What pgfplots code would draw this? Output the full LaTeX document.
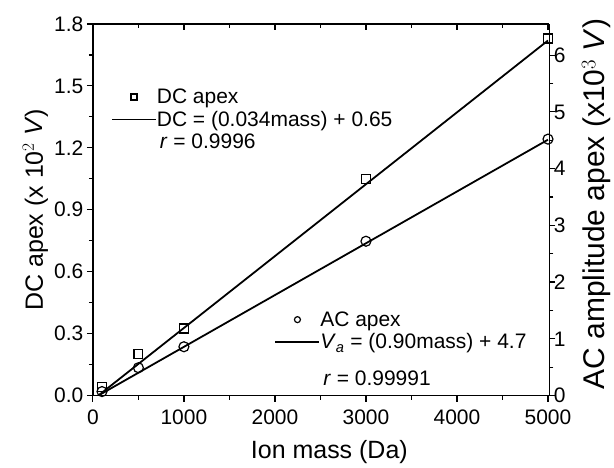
\documentclass[border=0pt]{standalone}
\usepackage{pgfplots}
\pgfplotsset{compat=1.18}
\usepackage{fontspec}
\setmainfont{Liberation Sans}
\newcommand{\tickfont}{\fontsize{21}{23}\selectfont}
\newcommand{\labfont}{\fontsize{25}{27}\selectfont}
\newcommand{\rlabfont}{\fontsize{30}{32}\selectfont}
\newcommand{\legfont}{\fontsize{21}{23}\selectfont}
\begin{document}
\begin{tikzpicture}
\pgfplotsset{
  base/.style={
    width=457pt, height=372pt, scale only axis,
    xmin=0, xmax=5015,
    /pgf/number format/assume math mode=true,
    tick label style={font=\tickfont},
    label style={font=\labfont},
    axis line style={line width=1.6pt},
    major tick length=6pt, minor tick length=4pt,
    every tick/.style={line width=1.2pt, black},
    legend style={draw=none, fill=none, font=\legfont, inner sep=0pt, outer sep=0pt,
      row sep=6pt, nodes={inner sep=0pt, outer sep=0pt},
      /tikz/every even column/.append style={column sep=6pt}},
    legend cell align=left,
    legend image code/.code={\draw[mark repeat=2,mark phase=2, mark size=3pt] plot coordinates {(0pt,0pt) (22pt,0pt) (44pt,0pt)};},
  }
}
% left axis: DC
\begin{axis}[base, name=ax,
  axis x line*=bottom, axis y line*=left, tick align=outside,
  ymin=0, ymax=1.8,
  ytick={0,0.3,...,1.8}, minor y tick num=1,
  xtick={0,1000,...,5000}, minor x tick num=1,
  yticklabel style={/pgf/number format/.cd, fixed, fixed zerofill, precision=1},
  xticklabel style={yshift=-5pt, /pgf/number format/.cd, fixed, 1000 sep={}},
  xlabel={Ion mass (Da)},
  ylabel={DC apex (x 10$^{2}$ \textit{V})},
  ylabel style={at={(axis description cs:-0.126,0.5)}, anchor=center},
  xlabel style={at={(axis description cs:0.518,0)}, yshift=-57pt, anchor=center},
  legend style={at={(0.04,0.825)}, anchor=north west},
]
\addplot[black, only marks, mark=square, mark size=4.5pt, mark options={line width=1.2pt}] coordinates {
  (100,0.04) (500,0.20) (1000,0.325) (3000,1.05) (5000,1.73)
};
\addlegendentry{DC apex}
\addplot[black, no marks, line width=1.8pt] coordinates {(60,0) (5000,1.72)};
\addlegendentry{DC = (0.034mass) + 0.65}
\addlegendimage{empty legend}
\addlegendentry{\hspace{3pt}\textit{r} = 0.9996}
\end{axis}
% right axis: AC
\begin{axis}[base,
  axis x line=none, axis y line*=right, tick align=outside,
  ymin=0, ymax=6.55,
  ytick={0,1,...,6}, minor y tick num=1,
  yticklabel style={xshift=-5pt},
  ylabel={AC amplitude apex (x10$^{3}$ \textit{V})},
  ylabel style={font=\rlabfont, at={(axis description cs:1.103,0.515)}, anchor=center},
  legend style={at={(0.398,0.226)}, anchor=north west},
]
\addplot[black, only marks, mark=o, mark size=5pt, mark options={line width=1.2pt}] coordinates {
  (100,0.07) (500,0.49) (1000,0.86) (3000,2.72) (5000,4.52)
};
\addlegendentry{AC apex}
\addplot[black, no marks, line width=1.8pt] coordinates {(60,0) (5000,4.51)};
\addlegendentry{\textit{V}$_{\mathit{a}}$ = (0.90mass) + 4.7}
\addlegendimage{empty legend}
\addlegendentry{\hspace{3pt}\raisebox{0pt}[29pt][0pt]{\textit{r} = 0.99991}}
\end{axis}
% top ticks
\begin{axis}[base,
  axis x line*=top, axis y line=none, tick align=inside,
  ymin=0, ymax=1,
  xtick={0,1000,...,5000}, minor x tick num=1, xticklabels={},
]
\end{axis}
\path[use as bounding box] ([xshift=-93pt,yshift=-70pt]ax.south west) rectangle ([xshift=64pt,yshift=24pt]ax.north east);
\end{tikzpicture}
\end{document}
